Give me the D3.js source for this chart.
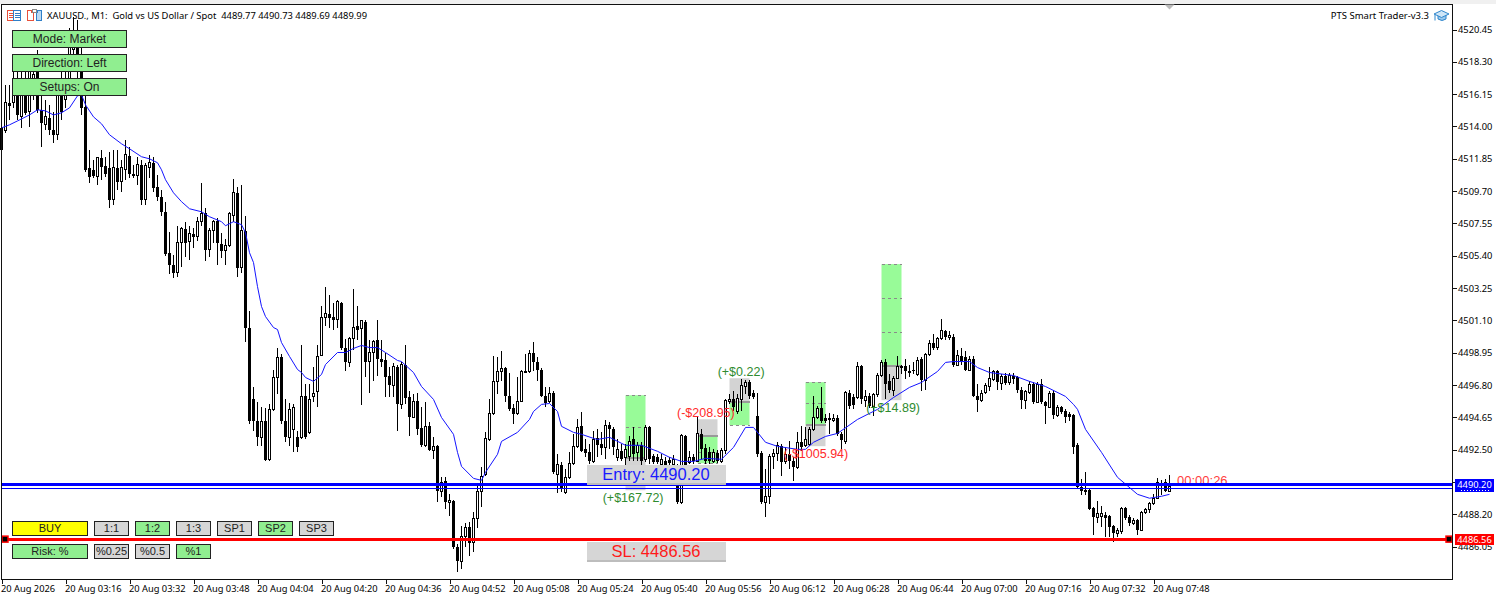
<!DOCTYPE html>
<html>
<head>
<meta charset="utf-8">
<script src="https://d3js.org/d3.v7.min.js"></script>
<style>
body { margin: 0; background: #fff; }
svg { display: block; }
text { font-family: "Liberation Sans", Arial, sans-serif; }
.mt text, .mt { font-family: "Noto Sans", sans-serif; font-size: 9.3px; fill: #000; }
</style>
</head>
<body>
<svg id="chart" width="1496" height="597"></svg>
<script>
// M1 candles, open high low close
const ohlc = [
[4513.91,4516.57,4511.79,4512.45],[4513.71,4516.77,4513.58,4515.57],[4515.57,4516.77,4514.44,4515.37],[4515.57,4517.76,4515.24,4516.70],
[4516.77,4518.43,4514.44,4514.78],[4514.65,4518.10,4513.91,4516.77],[4517.10,4518.43,4514.78,4514.91],[4514.98,4518.76,4513.97,4517.63],
[4516.77,4518.43,4515.77,4517.43],[4517.76,4519.09,4514.91,4515.11],[4515.11,4516.10,4512.65,4514.24],[4514.11,4515.77,4513.78,4514.65],
[4514.58,4515.44,4513.45,4513.78],[4513.78,4514.98,4512.91,4513.45],[4513.45,4516.77,4513.11,4516.10],[4516.77,4517.76,4514.44,4514.98],
[4515.77,4518.10,4515.24,4517.10],[4516.77,4520.55,4516.30,4519.75],[4519.09,4521.28,4518.43,4520.09],[4519.75,4521.08,4517.23,4517.63],
[4517.76,4519.42,4514.78,4515.24],[4515.30,4516.10,4510.99,4511.12],[4511.25,4512.45,4510.26,4510.66],[4511.12,4511.79,4510.59,4510.72],
[4510.66,4511.99,4510.13,4511.92],[4511.92,4512.45,4510.46,4511.32],[4511.39,4511.99,4510.66,4510.85],[4511.25,4512.32,4508.60,4509.13],
[4509.13,4512.45,4508.80,4511.25],[4511.25,4512.45,4509.79,4510.33],[4510.33,4511.79,4509.66,4511.25],[4511.12,4513.11,4510.46,4512.12],
[4512.05,4512.65,4510.59,4510.85],[4510.85,4511.45,4510.59,4510.72],[4510.72,4511.99,4510.13,4511.45],[4511.45,4511.79,4508.80,4509.13],
[4509.13,4511.59,4508.80,4511.39],[4511.25,4512.12,4510.59,4511.59],[4511.59,4511.99,4509.66,4509.93],[4510.00,4510.79,4509.06,4509.33],
[4509.33,4509.79,4508.07,4508.33],[4508.33,4509.00,4505.41,4505.54],[4505.61,4507.00,4504.21,4504.81],[4504.81,4505.48,4503.95,4504.28],
[4504.28,4507.40,4504.02,4506.27],[4506.27,4507.34,4504.68,4507.20],[4507.20,4507.67,4505.35,4506.27],[4506.34,4507.40,4505.15,4506.87],
[4506.87,4507.27,4505.94,4506.67],[4506.67,4508.00,4506.41,4507.67],[4507.67,4510.26,4507.40,4508.20],[4508.27,4508.60,4505.08,4505.81],
[4505.81,4507.27,4505.35,4507.07],[4507.07,4507.80,4506.27,4507.67],[4507.74,4507.94,4504.81,4506.27],[4506.21,4506.94,4505.28,4505.74],
[4505.74,4506.54,4504.81,4506.07],[4506.07,4508.33,4506.01,4508.20],[4508.07,4510.52,4507.67,4509.59],[4509.59,4510.00,4504.02,4504.61],
[4504.61,4510.13,4504.28,4507.07],[4507.07,4508.07,4499.70,4500.57],[4500.57,4501.70,4494.19,4494.39],[4495.85,4496.65,4493.73,4494.39],
[4494.39,4495.65,4492.73,4493.32],[4493.32,4495.32,4492.73,4494.39],[4494.39,4495.25,4491.73,4491.80],[4491.87,4495.52,4491.73,4495.19],
[4495.19,4497.84,4495.05,4497.31],[4497.31,4499.24,4496.18,4498.64],[4498.64,4498.84,4494.19,4494.39],[4494.39,4495.85,4492.99,4493.32],
[4493.32,4495.58,4492.73,4495.19],[4493.86,4495.52,4492.33,4495.32],[4493.32,4493.73,4492.33,4492.66],[4493.32,4499.50,4493.19,4496.05],
[4496.11,4496.85,4493.19,4493.32],[4493.66,4496.85,4493.53,4495.85],[4496.05,4497.98,4495.65,4496.25],[4496.38,4499.44,4495.32,4498.71],
[4498.77,4502.03,4498.71,4501.29],[4501.29,4503.35,4500.70,4501.56],[4501.56,4502.82,4500.63,4501.29],[4501.36,4502.29,4500.50,4501.16],
[4501.16,4502.49,4500.57,4502.36],[4502.29,4502.36,4499.17,4499.24],[4499.24,4499.90,4497.71,4498.31],[4498.31,4500.03,4497.98,4499.90],
[4499.90,4503.22,4499.17,4500.63],[4500.70,4502.03,4499.77,4500.50],[4500.57,4501.16,4495.45,4501.10],[4501.03,4501.16,4497.31,4498.37],
[4498.37,4499.83,4496.31,4498.97],[4498.97,4499.83,4497.05,4499.70],[4499.83,4501.16,4497.38,4498.57],[4498.57,4499.83,4497.98,4498.37],
[4498.44,4498.97,4495.98,4497.31],[4497.38,4497.98,4495.98,4496.78],[4496.78,4498.24,4495.98,4498.04],[4497.98,4498.17,4493.73,4495.52],
[4495.52,4498.31,4495.19,4498.17],[4498.11,4499.44,4495.52,4495.92],[4495.98,4496.38,4493.39,4494.65],[4494.65,4496.18,4494.59,4495.72],
[4495.72,4496.25,4493.46,4493.86],[4493.92,4495.32,4492.66,4492.80],[4492.80,4495.65,4492.66,4494.06],[4494.06,4494.32,4492.40,4492.46],
[4492.46,4493.32,4491.87,4492.73],[4492.73,4492.80,4489.01,4489.74],[4489.74,4490.67,4489.34,4490.34],[4490.41,4490.67,4488.55,4489.01],
[4489.01,4489.54,4488.08,4489.14],[4489.08,4489.14,4485.89,4486.02],[4486.02,4486.22,4484.36,4485.09],[4485.09,4487.42,4484.56,4486.75],
[4486.75,4487.62,4486.02,4487.35],[4487.35,4487.68,4485.42,4486.29],[4486.36,4488.35,4485.69,4487.95],[4487.95,4490.20,4487.29,4489.74],
[4489.74,4491.33,4488.68,4490.74],[4490.87,4493.66,4490.74,4493.26],[4493.19,4495.85,4493.06,4494.92],[4494.92,4498.71,4494.79,4497.05],
[4497.05,4498.64,4496.18,4497.71],[4497.71,4499.10,4497.05,4497.91],[4497.91,4497.98,4495.65,4496.05],[4496.05,4497.64,4495.05,4495.19],
[4495.25,4495.52,4494.19,4494.86],[4494.92,4497.31,4494.79,4495.72],[4495.72,4497.78,4495.65,4497.71],[4497.64,4498.84,4497.58,4497.71],
[4497.71,4499.17,4497.64,4498.91],[4498.91,4499.70,4497.71,4498.37],[4498.37,4498.64,4497.05,4497.78],[4497.84,4497.91,4495.98,4496.05],
[4496.11,4496.65,4495.32,4495.58],[4495.72,4496.65,4495.58,4496.25],[4496.25,4496.38,4490.87,4491.00],[4490.87,4492.20,4489.60,4491.53],
[4491.47,4491.67,4489.67,4489.87],[4489.67,4491.20,4489.54,4490.67],[4490.67,4492.33,4490.54,4491.60],[4491.60,4493.53,4491.47,4492.73],
[4492.73,4494.52,4492.60,4493.99],[4494.06,4494.99,4492.33,4492.40],[4492.53,4493.19,4492.00,4492.27],[4492.33,4492.86,4491.53,4491.73],
[4491.73,4493.73,4491.60,4493.19],[4493.26,4493.86,4492.00,4492.80],[4492.86,4493.66,4492.13,4492.60],[4492.66,4494.45,4491.87,4494.12],
[4494.12,4494.32,4492.53,4493.86],[4493.86,4493.99,4492.13,4492.66],[4492.00,4493.19,4491.73,4492.53],[4492.40,4492.86,4491.73,4491.87],
[4492.00,4492.86,4491.47,4492.53],[4492.07,4493.39,4491.73,4493.06],[4493.19,4493.99,4491.73,4492.20],[4492.33,4492.99,4491.73,4492.80],
[4492.80,4492.99,4491.33,4491.73],[4491.87,4494.12,4491.67,4493.99],[4493.99,4494.06,4491.53,4491.87],[4492.07,4492.20,4491.53,4491.67],
[4492.00,4492.20,4491.53,4491.67],[4491.53,4492.20,4491.20,4491.87],[4491.73,4492.00,4491.20,4491.47],[4491.80,4492.00,4491.33,4491.60],
[4491.53,4492.13,4491.20,4491.87],[4491.20,4491.53,4488.88,4489.01],[4489.01,4493.53,4488.88,4493.46],[4493.39,4493.46,4490.87,4491.20],
[4491.67,4492.40,4491.53,4492.00],[4492.00,4492.20,4491.53,4491.73],[4491.73,4494.65,4491.67,4493.59],[4493.53,4493.86,4491.87,4492.53],
[4492.60,4492.86,4491.53,4491.73],[4492.33,4492.66,4491.53,4491.73],[4491.73,4492.53,4491.60,4492.33],[4492.27,4492.46,4491.60,4491.73],
[4491.73,4492.60,4491.60,4492.46],[4492.46,4495.85,4492.20,4495.78],[4495.72,4496.18,4495.52,4495.85],[4495.85,4496.38,4495.05,4495.32],
[4495.05,4496.18,4494.86,4495.92],[4495.85,4497.18,4495.05,4496.78],[4496.71,4497.11,4496.18,4496.98],[4496.98,4497.11,4495.85,4496.05],
[4496.31,4496.45,4495.85,4495.98],[4494.72,4496.25,4492.00,4492.20],[4492.27,4492.40,4488.88,4489.01],[4489.01,4491.20,4488.01,4489.41],
[4489.41,4492.20,4488.88,4492.07],[4492.07,4492.53,4491.20,4492.27],[4492.27,4492.99,4491.73,4492.80],[4492.73,4492.86,4490.74,4491.67],
[4491.73,4492.66,4491.53,4492.20],[4492.20,4493.06,4491.20,4491.73],[4491.73,4492.00,4490.41,4491.33],[4491.33,4493.66,4491.20,4492.99],
[4492.99,4494.06,4492.40,4492.66],[4492.80,4493.99,4492.66,4493.19],[4492.86,4493.99,4492.73,4493.86],[4493.86,4496.05,4493.73,4494.65],
[4494.65,4495.38,4494.52,4495.25],[4495.25,4496.65,4494.26,4494.39],[4494.59,4494.86,4494.26,4494.39],[4494.59,4494.92,4493.53,4494.45],
[4494.45,4494.86,4494.32,4494.59],[4494.59,4494.79,4493.39,4493.53],[4493.53,4493.66,4492.53,4493.13],[4493.06,4496.38,4492.86,4496.31],
[4496.31,4496.51,4495.19,4495.38],[4495.98,4496.18,4495.19,4495.45],[4495.98,4498.37,4495.85,4498.04],[4498.04,4498.17,4495.52,4495.85],
[4495.78,4496.51,4495.32,4496.05],[4496.11,4496.25,4495.25,4495.38],[4495.38,4496.31,4494.72,4496.18],[4496.18,4497.58,4495.98,4497.44],
[4497.44,4498.44,4497.31,4498.31],[4498.31,4498.51,4495.85,4496.85],[4497.05,4497.51,4496.31,4496.45],[4496.45,4497.44,4496.05,4497.24],
[4497.24,4498.71,4497.18,4498.04],[4498.04,4498.17,4497.51,4497.91],[4498.04,4498.51,4497.18,4497.71],[4497.71,4498.17,4497.31,4497.58],
[4497.84,4498.37,4497.51,4497.71],[4497.51,4498.64,4497.38,4498.44],[4498.51,4498.64,4496.38,4497.11],[4497.11,4498.97,4496.51,4498.84],
[4498.84,4499.77,4498.71,4499.57],[4499.57,4500.17,4499.17,4499.30],[4499.30,4500.03,4499.17,4499.90],[4499.90,4501.23,4499.77,4500.43],
[4500.43,4500.50,4499.83,4499.97],[4499.97,4500.43,4499.77,4500.10],[4500.03,4500.17,4497.98,4498.11],[4498.11,4499.17,4498.04,4498.77],
[4498.77,4499.30,4498.17,4498.37],[4498.64,4499.04,4497.71,4497.78],[4497.78,4498.77,4497.71,4498.51],[4498.57,4498.71,4495.98,4496.11],
[4496.11,4496.85,4494.99,4495.78],[4495.78,4496.51,4495.65,4496.25],[4496.31,4496.91,4496.18,4496.78],[4496.71,4497.98,4496.38,4497.24],
[4497.18,4497.84,4497.05,4497.71],[4497.71,4497.84,4496.51,4496.98],[4496.91,4497.51,4496.51,4497.38],[4497.38,4497.58,4496.78,4496.91],
[4496.98,4497.58,4496.78,4497.44],[4497.44,4497.64,4496.85,4497.24],[4497.31,4497.38,4496.31,4496.45],[4496.51,4496.65,4495.19,4495.78],
[4495.78,4496.51,4495.19,4496.38],[4496.31,4497.05,4496.18,4496.85],[4496.85,4496.98,4495.52,4495.65],[4495.65,4496.98,4495.58,4496.85],
[4496.85,4497.18,4495.52,4495.65],[4495.65,4495.72,4494.19,4495.38],[4495.32,4496.38,4495.25,4496.25],[4496.31,4496.45,4494.52,4494.79],
[4494.79,4495.45,4494.65,4495.32],[4495.32,4495.38,4494.86,4494.99],[4495.05,4495.19,4494.26,4494.65],[4494.86,4494.99,4494.39,4494.65],
[4494.79,4494.86,4492.20,4492.66],[4492.80,4492.93,4489.87,4490.01],[4490.01,4490.54,4489.47,4489.74],[4489.81,4491.00,4489.47,4489.67],
[4489.81,4489.87,4488.48,4488.55],[4488.61,4488.68,4486.82,4488.01],[4488.01,4489.08,4487.62,4488.28],[4488.08,4488.75,4487.35,4488.28],
[4488.15,4488.35,4486.68,4487.95],[4488.08,4488.15,4486.68,4487.35],[4487.42,4487.48,4486.36,4486.95],[4486.95,4487.29,4486.68,4487.15],
[4487.09,4488.68,4486.89,4488.61],[4488.61,4488.68,4487.81,4487.95],[4488.01,4488.15,4487.42,4487.62],[4487.62,4487.95,4487.48,4487.81],
[4487.81,4487.88,4486.82,4487.15],[4487.15,4488.41,4487.09,4488.35],[4488.35,4488.61,4488.21,4488.55],[4488.55,4489.01,4488.28,4488.95],
[4488.95,4489.54,4488.81,4489.28],[4489.28,4490.60,4489.21,4490.34],[4490.20,4490.47,4489.47,4490.07],[4490.34,4490.54,4489.67,4489.74],
[4489.74,4490.80,4489.67,4490.07]
];

// moving average, bar number and value
const maBars = [0,2,4,7,9,11,13,15,17,19,20,21,23,25,27,30,32,35,37,39,40,41,43,45,47,50,52,55,56,58,60,61,62,63,64,65,66,68,69,70,72,74,75,76,78,80,81,84,86,88,90,92,94,96,99,100,103,105,108,110,113,114,115,118,120,121,124,125,129,132,133,135,137,139,140,143,145,148,149,152,156,160,164,167,170,173,176,180,183,186,188,191,194,199,201,203,206,209,214,219,223,227,230,234,236,238,242,244,247,253,257,261,266,268,269,271,275,279,284,287,290,292];
const maValues = [4513.91,4514.11,4514.37,4514.77,4515.11,4515.04,4514.77,4514.91,4515.24,4516.04,4516.10,4515.44,4514.64,4514.18,4513.45,4512.85,4512.52,4511.99,4511.85,4511.59,4511.12,4510.46,4509.59,4509.00,4508.53,4508.33,4508.00,4507.67,4507.40,4507.67,4507.47,4506.94,4505.61,4504.95,4503.35,4502.03,4501.36,4500.63,4500.50,4499.63,4498.71,4497.84,4497.64,4497.31,4497.05,4497.51,4498.17,4498.97,4498.97,4499.24,4499.44,4499.30,4499.30,4498.97,4498.44,4498.37,4497.64,4496.71,4495.85,4494.65,4493.53,4492.33,4491.40,4490.60,4490.47,4491.00,4492.20,4493.06,4493.66,4494.52,4495.05,4495.52,4495.58,4495.05,4494.06,4493.66,4493.53,4493.26,4493.19,4493.33,4492.80,4492.80,4492.40,4492.00,4491.73,4491.73,4491.93,4491.87,4492.66,4493.99,4493.99,4493.00,4492.73,4492.53,4492.53,4493.00,4493.39,4493.59,4494.52,4495.19,4495.98,4496.65,4496.98,4497.71,4498.31,4498.37,4498.37,4497.97,4497.64,4497.44,4497.05,4496.71,4496.05,4495.52,4495.19,4493.86,4492.33,4490.67,4489.54,4489.28,4489.41,4489.54];

const priceTicks = [4520.45,4518.30,4516.15,4514.00,4511.85,4509.70,4507.55,4505.40,4503.25,4501.10,4498.95,4496.80,4494.65,4492.50,4490.35,4488.20,4486.05];
const timeLabels = ["20 Aug 2026","20 Aug 03:16","20 Aug 03:32","20 Aug 03:48","20 Aug 04:04","20 Aug 04:20","20 Aug 04:36","20 Aug 04:52","20 Aug 05:08","20 Aug 05:24","20 Aug 05:40","20 Aug 05:56","20 Aug 06:12","20 Aug 06:28","20 Aug 06:44","20 Aug 07:00","20 Aug 07:16","20 Aug 07:32","20 Aug 07:48"];

const entryPrice = 4490.20;
const stopPrice = 4486.56;
const bidPrice = 4489.99;

// past setups: first bar, entry, stop, target, inner target levels, result
const setupBars = [156,174,182,201,220];
const setupEntry = [4491.94,4493.40,4495.67,4494.14,4498.06];
const setupStop = [4489.81,4494.53,4497.26,4492.74,4495.80];
const setupTarget = [4496.13,4491.61,4494.14,4497.00,4504.85];
const setupLevels = [[4494.00],[4492.34],[],[4495.58],[4502.59,4500.33]];
const setupResults = ["(+$167.72)","(-$208.95)","(+$0.22)","(-$1005.94)","(+$14.89)"];
const resultBars = [157.9,176.1,184.9,203.6,222.9];
const resultPrices = [4489.03,4494.69,4497.41,4491.96,4495.02];

const panelButtons = [["Mode: Market",1],["Direction: Left",1],["Setups: On",1]];
const rrButtons = [["1:1",0],["1:2",1],["1:3",0],["SP1",0],["SP2",1],["SP3",0]];
const riskButtons = [["%0.25",0],["%0.5",0],["%1",1]];

const svg = d3.select("#chart");
const left = 1.5, right = 1452.5, top_ = 4.5, bottom = 579.5;

const x = d3.scaleLinear().domain([0, 1]).range([1.5, 5.5]);
const y = d3.scaleLinear().domain([4486.05, 4520.45]).range([546.8, 29.5]);

const green = "#90ee90", gray = "#d6d6d6", ink = "#222";

svg.append("rect").attr("width", 1496).attr("height", 4).attr("fill", "#f0f0f0");

// setup boxes go under the candles
const zones = svg.append("g");
setupBars.forEach((b, i) => {
  const x0 = x(b) , w = x(b + 5) - x(b);
  const ye = y(setupEntry[i]), ys = y(setupStop[i]), yt = y(setupTarget[i]);
  zones.append("rect").attr("x", x0).attr("width", w).attr("y", Math.min(ye, ys)).attr("height", Math.abs(ye - ys)).attr("fill", "#d3d3d3");
  zones.append("rect").attr("x", x0).attr("width", w).attr("y", Math.min(ye, yt)).attr("height", Math.abs(ye - yt)).attr("fill", "#98fb98");
  setupLevels[i].concat([setupTarget[i]]).forEach(l => {
    zones.append("line").attr("x1", x0).attr("x2", x0 + w).attr("y1", y(l)).attr("y2", y(l))
      .attr("stroke", "#8a8a8a").attr("stroke-dasharray", "3,3").attr("shape-rendering", "crispEdges");
  });
  zones.append("line").attr("x1", x0).attr("x2", x0 + w).attr("y1", ye).attr("y2", ye)
    .attr("stroke", "#999").attr("stroke-width", 2).attr("shape-rendering", "crispEdges");
});

// candles
const bars = svg.append("g").attr("shape-rendering", "crispEdges");
const bar = bars.selectAll("g").data(ohlc).join("g");
bar.append("line")
  .attr("x1", (d, i) => x(i)).attr("x2", (d, i) => x(i))
  .attr("y1", d => y(d[1])).attr("y2", d => y(d[2]))
  .attr("stroke", "#000");
bar.append("rect")
  .attr("x", (d, i) => d[3] >= d[0] ? x(i) - 1 : x(i) - 1.5)
  .attr("width", d => d[3] >= d[0] ? 2 : 3)
  .attr("y", d => y(Math.max(d[0], d[3])))
  .attr("height", d => Math.max(1, Math.abs(y(d[0]) - y(d[3]))))
  .attr("fill", d => d[3] >= d[0] ? "#fff" : "#000")
  .attr("stroke", d => d[3] >= d[0] ? "#000" : "none");

// moving average
const maLine = d3.line().x((d, i) => x(maBars[i])).y(d => y(d));
svg.append("path").attr("d", maLine(maValues)).attr("fill", "none").attr("stroke", "#1414ff").attr("stroke-width", 1);

// countdown sits under the price lines
svg.append("text").attr("x", 1177).attr("y", 485).attr("font-size", 13).attr("fill", "#ff4040").text("00:00:26");

// price lines
function hline(p, w, c) {
  svg.append("line").attr("x1", left).attr("x2", right).attr("y1", Math.round(y(p)) + (w % 2 ? 0.5 : 0)).attr("y2", Math.round(y(p)) + (w % 2 ? 0.5 : 0))
    .attr("stroke", c).attr("stroke-width", w).attr("shape-rendering", "crispEdges");
}
hline(bidPrice, 1, "#0000ff");
hline(entryPrice, 3, "#0000ff");
hline(stopPrice, 3, "#ff0000");
[5, 1449].forEach(cx => {
  svg.append("rect").attr("x", cx - 3).attr("y", y(stopPrice) - 3).attr("width", 6).attr("height", 6)
    .attr("fill", "#000").attr("stroke", "#ff0000").attr("stroke-width", 1.5);
});

// result texts
setupResults.forEach((t, i) => {
  const win = t.startsWith("(+");
  svg.append("text").attr("x", x(resultBars[i])).attr("y", y(resultPrices[i])).attr("text-anchor", "middle")
    .attr("font-size", 12.5).attr("fill", win ? "#2e8b2e" : "#ff2a2a").text(t);
});

// entry and stop labels
function priceLabel(txt, py, c) {
  svg.append("rect").attr("x", 587).attr("y", py).attr("width", 139).attr("height", 20).attr("fill", gray);
  svg.append("rect").attr("x", 587).attr("y", py + 18).attr("width", 139).attr("height", 2).attr("fill", "#bdbdbd");
  svg.append("text").attr("x", 656).attr("y", py + 15).attr("text-anchor", "middle")
    .attr("font-size", 16.5).attr("fill", c).text(txt);
}
priceLabel("Entry: " + entryPrice.toFixed(2), 465, "#1a1aff");
priceLabel("SL: " + stopPrice.toFixed(2), 542, "#ff1a1a");

// frame and axes
svg.append("rect").attr("x", left).attr("y", top_).attr("width", right - left).attr("height", bottom - top_)
  .attr("fill", "none").attr("stroke", "#111").attr("shape-rendering", "crispEdges");

const yAxis = d3.axisRight(y).tickValues(priceTicks).tickSize(4).tickPadding(1.5).tickFormat(d3.format(".2f"));
const gy = svg.append("g").attr("class", "mt").attr("transform", `translate(${right},0)`).call(yAxis);
gy.select(".domain").remove();
gy.selectAll("line").attr("stroke", "#111").attr("shape-rendering", "crispEdges");
gy.selectAll("text").attr("fill", "#000");

const xAxis = d3.axisBottom(x).tickValues(timeLabels.map((d, i) => i * 16)).tickSize(4).tickPadding(2)
  .tickFormat(i => timeLabels[i / 16]);
const gx = svg.append("g").attr("class", "mt").attr("transform", `translate(0,${bottom})`).call(xAxis);
gx.select(".domain").remove();
gx.selectAll("line").attr("stroke", "#111").attr("shape-rendering", "crispEdges");
gx.selectAll("text").attr("text-anchor", "start").attr("x", -1).attr("fill", "#000");

// price tags
function tag(p, ty, h, c, txt) {
  svg.append("rect").attr("x", 1455).attr("y", ty).attr("width", 39).attr("height", h).attr("fill", c);
  svg.append("text").attr("class", "mt").attr("x", 1474.5).attr("y", y(p) + 3.5).attr("text-anchor", "middle")
    .style("fill", "#fff").text(txt);
}
tag(entryPrice, 479, 13, "#0000ff", entryPrice.toFixed(2));
svg.append("line").attr("x1", 1461).attr("x2", 1491).attr("y1", 490.5).attr("y2", 490.5)
  .attr("stroke", "#fff").attr("stroke-dasharray", "1,2");
tag(stopPrice, 534, 11, "#ff0000", stopPrice.toFixed(2));

// buttons
function button(txt, bx, by, bw, bh, fill) {
  svg.append("rect").attr("x", bx + 0.5).attr("y", by + 0.5).attr("width", bw).attr("height", bh).attr("rx", 1)
    .attr("fill", fill).attr("stroke", ink).attr("shape-rendering", "crispEdges");
  svg.append("text").attr("x", bx + bw / 2 + 0.5).attr("y", by + bh / 2 + 4).attr("text-anchor", "middle")
    .attr("font-size", bh > 16 ? 12 : 11).attr("fill", ink).text(txt);
}
panelButtons.forEach((b, i) => button(b[0], 12, 30 + i * 24, 114, 17, green));
button("BUY", 12, 521, 75, 14, "#ffff00");
rrButtons.forEach((b, i) => button(b[0], 94 + i * 41, 521, 34, 14, b[1] ? green : gray));
button("Risk: %", 12, 544, 75, 14, green);
riskButtons.forEach((b, i) => button(b[0], 94 + i * 41, 544, 34, 14, b[1] ? green : gray));

// header
const hdr = svg.append("g");
hdr.append("text").attr("class", "mt").attr("x", 47).attr("y", 19).style("font-size", "9.37px")
  .style("white-space", "pre").text("XAUUSD., M1:  Gold vs US Dollar / Spot  4489.77 4490.73 4489.69 4489.99");
hdr.append("text").attr("class", "mt").attr("x", 1429).attr("y", 19).attr("text-anchor", "end").style("font-size", "9.5px").text("PTS Smart Trader-v3.3");

// the small toolbar icons
const icon = hdr.append("g").attr("fill", "none").attr("shape-rendering", "crispEdges");
icon.append("rect").attr("x", 7.5).attr("y", 10.5).attr("width", 6).attr("height", 10).attr("stroke", "#e8503a");
icon.append("rect").attr("x", 13.5).attr("y", 10.5).attr("width", 7).attr("height", 10).attr("stroke", "#2f7fc8");
[13.5, 15.5, 17.5].forEach(l => {
  icon.append("line").attr("x1", 9).attr("x2", 13).attr("y1", l).attr("y2", l).attr("stroke", "#e8503a");
  icon.append("line").attr("x1", 15).attr("x2", 20).attr("y1", l).attr("y2", l).attr("stroke", "#2f7fc8");
});
icon.append("path").attr("d", "M27.5 10.5h4v2h2v8h-6z").attr("stroke", "#e8503a");
icon.append("path").attr("d", "M36.5 12.5h1v-2h4v10h-5z").attr("stroke", "#2f7fc8").attr("fill", "#bcd9f2");
icon.append("rect").attr("x", 32.5).attr("y", 9.5).attr("width", 4).attr("height", 3).attr("stroke", "#888");

const hat = hdr.append("g");
hat.append("path").attr("d", "M1438 15v4q4 3 8 0v-4z").attr("fill", "#9cc9ec").attr("stroke", "#2f86cc");
hat.append("path").attr("d", "M1434 14l7.5-3.5l7.5 3.5l-7.5 3.5z").attr("fill", "#cfe6f7").attr("stroke", "#2f86cc");
hat.append("path").attr("d", "M1435 14.5v6").attr("stroke", "#2f86cc");

// marker at the top of the chart
svg.append("path").attr("d", d3.line()([[1164.5, 4.5], [1174.5, 4.5], [1169.5, 9.5]])).attr("fill", "#bbb");
</script>
</body>
</html>
